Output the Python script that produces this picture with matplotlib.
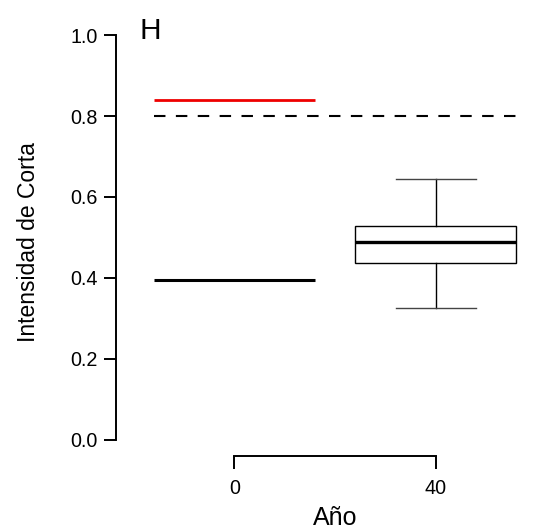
import matplotlib
matplotlib.use("Agg")
import matplotlib.pyplot as plt

plt.rcParams['font.family'] = ['Liberation Sans', 'DejaVu Sans']

# Data
year_ticks = [0, 40]
y_ticks = [0.0, 0.2, 0.4, 0.6, 0.8, 1.0]
y_tick_labels = ["0.0", "0.2", "0.4", "0.6", "0.8", "1.0"]
red_level = 0.84
black_level = 0.395
ref_level = 0.8
seg_start, seg_end = -16, 16
ref_end = 56
box_pos = 40
box_stats = dict(whislo=0.325, q1=0.436, med=0.488, q3=0.528, whishi=0.644)

W, H = 534, 531
fig = plt.figure(figsize=(W / 100, H / 100), dpi=100)
ax = fig.add_axes([116 / W, (H - 455.7) / H, (529 - 116) / W, (455.7 - 19) / H])
ax.set_xlim(-23.5, 58.5)
ax.set_ylim(-0.04, 1.04)

ax.plot([seg_start, seg_end], [red_level, red_level], color='#ee0000', lw=2.0, solid_capstyle='butt')
ax.plot([seg_start, ref_end], [ref_level, ref_level], color='black', lw=1.5, dashes=(5.5, 5))
ax.plot([seg_start, seg_end], [black_level, black_level], color='black', lw=2.2, solid_capstyle='butt')

bp = ax.bxp([box_stats], positions=[box_pos], widths=32, capwidths=16,
            showfliers=False, patch_artist=True,
            boxprops=dict(facecolor='white', edgecolor='black', linewidth=1.0),
            medianprops=dict(color='black', linewidth=2.4, solid_capstyle='butt'),
            whiskerprops=dict(color='black', linewidth=1.0),
            capprops=dict(color='#444444', linewidth=1.0))

for s in ['top', 'right']:
    ax.spines[s].set_visible(False)
ax.spines['left'].set_bounds(0, 1)
ax.spines['bottom'].set_bounds(0, 40)
ax.spines['left'].set_linewidth(1.4)
ax.spines['bottom'].set_linewidth(1.4)

ax.set_yticks(y_ticks)
ax.set_yticklabels(y_tick_labels)
ax.set_xticks(year_ticks)
ax.set_xticklabels([str(v) for v in year_ticks])
ax.tick_params(axis='y', length=9, width=1.4, pad=4, labelsize=14.2)
ax.tick_params(axis='x', length=9, width=1.4, pad=8, labelsize=14.2)

fig.text(35 / W, 1 - 242 / H, "Intensidad de Corta", rotation=90, rotation_mode='anchor',
         ha='center', va='baseline', fontsize=16.5)
fig.text(335 / W, 1 - 525 / H, "Año", ha='center', va='baseline', fontsize=18)
fig.text(139 / W, 1 - 39 / H, "H", ha='left', va='baseline', fontsize=21.5)

fig.savefig("out.png", dpi=100)
